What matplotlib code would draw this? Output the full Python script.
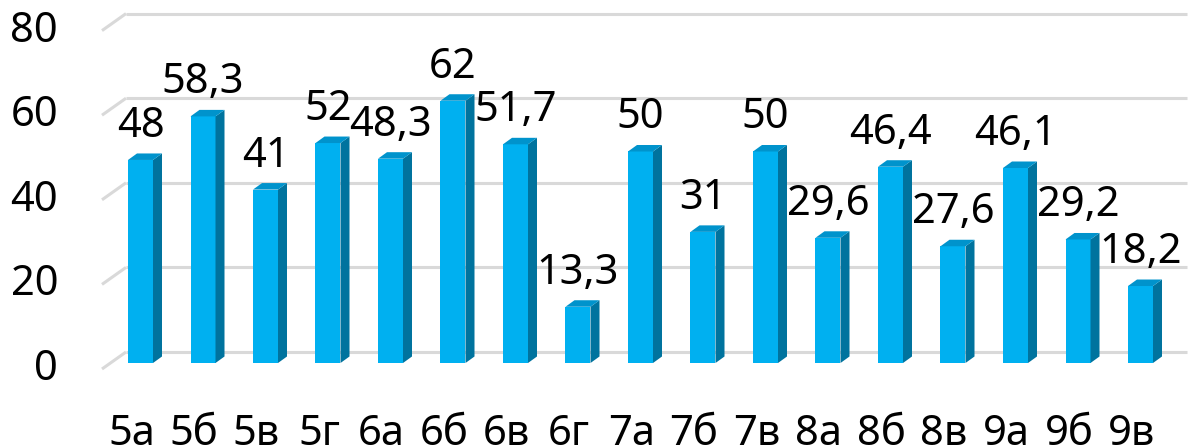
import matplotlib
matplotlib.use("Agg")
import matplotlib.pyplot as plt
from matplotlib.patches import Polygon

categories = ["5а", "5б", "5в", "5г", "6а", "6б", "6в", "6г", "7а", "7б", "7в",
              "8а", "8б", "8в", "9а", "9б", "9в"]
values = [48, 58.3, 41, 52, 48.3, 62, 51.7, 13.3, 50, 31, 50,
          29.6, 46.4, 27.6, 46.1, 29.2, 18.2]
y_ticks = [0, 20, 40, 60, 80]

plt.rcParams['font.family'] = ['Noto Sans', 'DejaVu Sans']

W, H = 1188, 448
fig = plt.figure(figsize=(W / 100, H / 100), dpi=100)
ax = fig.add_axes([0, 0, 1, 1])
ax.set_axis_off()

# pixel geometry
px_cat = 62.5          # pixels per category
x0_px = 140.5          # pixel x of first bar centre
px_val = 4.23          # pixels per unit value
base_px = 85           # pixel of value 0 from bottom (bar front)
ax.set_xlim(-x0_px / px_cat, (W - x0_px) / px_cat)
ax.set_ylim(-base_px / px_val, (H - base_px) / px_val)

def dx(p):
    return p / px_cat

def dy(p):
    return p / px_val

front_c = "#00B0F0"
side_c = "#00739E"
top_c = "#0093CC"
grid_c = "#D9D9D9"

# walls / gridlines
back_x0 = dx(126 - x0_px)
front_x0 = dx(102 - x0_px)
right_x = dx(1187 - x0_px)
back_dy = dy(11)
front_dy = dy(-6)
for t in y_ticks:
    ax.plot([back_x0, right_x], [t + back_dy, t + back_dy], color=grid_c, lw=2.2,
            solid_capstyle='butt', zorder=1)
    ax.plot([front_x0, back_x0], [t + front_dy, t + back_dy], color=grid_c, lw=2.2,
            solid_capstyle='butt', zorder=1)
    ax.text(dx(58 - x0_px), t + front_dy, str(t), ha='right', va='center',
            fontsize=30, color='black')

# bars
w = 0.4
ddx = dx(9)
ddy = dy(6.5)
xs = list(range(len(categories)))
ax.bar(xs, values, width=w, color=front_c, zorder=3, linewidth=0)
for x, v in zip(xs, values):
    r = x + w / 2
    l = x - w / 2
    ax.add_patch(Polygon([(r, 0), (r + ddx, ddy), (r + ddx, v + ddy), (r, v)],
                         closed=True, facecolor=side_c, edgecolor='none', zorder=3))
    ax.add_patch(Polygon([(l, v), (l + ddx, v + ddy), (r + ddx, v + ddy), (r, v)],
                         closed=True, facecolor=top_c, edgecolor='none', zorder=3))
    lab = ("%g" % v).replace('.', ',')
    ax.text(x, v + dy(23), lab, ha='center', va='baseline', fontsize=30,
            color='black', zorder=5)

# category labels
for x, c in zip(xs, categories):
    ax.text(x - dx(9), dy(-82), c, ha='center', va='baseline', fontsize=30,
            color='black')

fig.savefig("out.png", dpi=100)
